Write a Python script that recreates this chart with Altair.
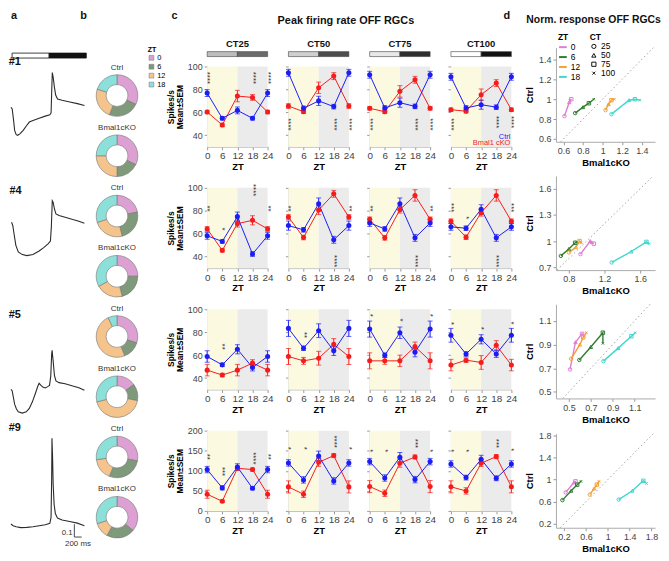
import altair as alt
import pandas as pd

FONT = "Liberation Sans"

# ---------------- panel a : example traces ----------------
TRACE_LABELS = ["#1", "#4", "#5", "#9"]
TRACE_T = [
    [0, 33, 67, 100, 142, 183, 250, 333, 417, 500, 600, 767, 933, 1058, 1092, 1108, 1125, 1150, 1183, 1217, 1267, 1392, 1600, 1808, 2000],
    [16, 49, 83, 133, 199, 308, 433, 599, 766, 891, 1016, 1074, 1099, 1124, 1149, 1183, 1224, 1308, 1474, 1683, 1849, 1999],
    [0, 33, 66, 99, 149, 199, 308, 416, 499, 583, 666, 733, 766, 816, 866, 933, 999, 1049, 1083, 1108, 1120, 1135, 1149, 1183, 1224, 1308, 1474, 1683, 1849, 1999],
    [0, 58, 141, 266, 433, 599, 766, 933, 1058, 1091, 1108, 1116, 1133, 1149, 1174, 1208, 1266, 1391, 1599, 1808, 1999],
]
TRACE_V = [
    [0.218, 0.205, 0.128, 0.038, 0.005, 0.0, 0.013, 0.038, 0.072, 0.103, 0.115, 0.133, 0.149, 0.159, 0.174, 0.333, 0.487, 0.449, 0.372, 0.313, 0.282, 0.272, 0.259, 0.246, 0.231],
    [0.256, 0.231, 0.167, 0.077, 0.026, 0.005, -0.003, 0.005, 0.033, 0.059, 0.09, 0.11, 0.218, 0.423, 0.410, 0.359, 0.321, 0.308, 0.295, 0.277, 0.264, 0.249],
    [0.185, 0.172, 0.121, 0.069, 0.031, 0.010, 0.0, 0.010, 0.036, 0.087, 0.154, 0.210, 0.231, 0.215, 0.203, 0.195, 0.205, 0.215, 0.287, 0.46, 0.487, 0.44, 0.403, 0.292, 0.249, 0.236, 0.228, 0.210, 0.197, 0.177],
    [0.031, 0.018, 0.010, 0.003, 0.005, 0.010, 0.018, 0.026, 0.036, 0.082, 0.390, 0.697, 0.544, 0.338, 0.185, 0.113, 0.077, 0.062, 0.051, 0.038, 0.018],
]
STIM_START = [30, 1040]
STIM_END = [1040, 2050]
STIM_PHASE = ["light", "dark"]
SCALEBAR_T = [1725, 1725, 1925]
SCALEBAR_V = [0.03, -0.07, -0.07]
SCALEBAR_TEXT = ["0.1", "200 ms"]
SCALEBAR_TEXT_T = [1680, 1825]
SCALEBAR_TEXT_V = [-0.035, -0.125]

# ---------------- panel b : ZT proportions ----------------
DONUT_ZT = ["0", "6", "12", "18"]
DONUT_GROUPS = ["Ctrl", "Bmal1cKO"]
DONUT_FRAC = [
    [[0.32, 0.24, 0.24, 0.20], [0.32, 0.18, 0.25, 0.25]],
    [[0.22, 0.24, 0.24, 0.30], [0.25, 0.21, 0.21, 0.33]],
    [[0.30, 0.14, 0.49, 0.07], [0.15, 0.13, 0.43, 0.29]],
    [[0.28, 0.28, 0.17, 0.27], [0.36, 0.22, 0.12, 0.30]],
]

# ---------------- panel c : peak firing rate ----------------
CT_NAMES = ["CT25", "CT50", "CT75", "CT100"]
ZT = [0, 6, 12, 18, 24]
SERIES = ["Ctrl", "Bmal1 cKO"]
CTRL_MEAN = [
    [[76.8, 54.8, 61.7, 54.8, 76.8], [94.5, 63.5, 70.0, 65.0, 94.5], [92.8, 63.8, 68.4, 65.2, 92.8], [91.0, 63.8, 66.7, 64.5, 91.0]],
    [[58.2, 53.3, 74.9, 42.3, 58.2], [67.1, 63.4, 86.2, 54.7, 67.1], [69.4, 64.2, 86.2, 56.4, 69.4], [66.0, 64.8, 81.3, 56.4, 66.0]],
    [[58.8, 51.5, 65.1, 49.2, 58.8], [83.3, 66.0, 81.3, 63.7, 83.3], [82.7, 59.9, 79.5, 62.5, 82.7], [77.3, 61.0, 73.8, 61.0, 77.3]],
    [[103, 57.3, 109.5, 56.4, 103], [119.5, 77.2, 137, 74.7, 119.5], [122.8, 82, 133.6, 78, 122.8], [117, 83, 128.6, 81.3, 117]],
]
CTRL_SEM = [
    [[3, 1.5, 3, 1.5, 3], [3, 2, 4, 2, 3], [3, 2, 4, 2, 3], [3, 2, 4, 2, 3]],
    [[3, 1.5, 4, 2, 3], [4, 2, 5, 3, 4], [3, 2, 5, 3, 3], [3, 2, 4, 3, 3]],
    [[5, 1.5, 4, 3, 5], [7, 2, 6, 4, 7], [7, 2, 5, 4, 7], [6, 2, 4, 3, 6]],
    [[8, 5, 8, 4, 8], [8, 8, 12, 8, 8], [8, 8, 12, 8, 8], [8, 6, 10, 6, 8]],
]
KO_MEAN = [
    [[60.3, 49.0, 74.2, 73.0, 60.3], [65.5, 60.6, 81.4, 91.6, 65.5], [63.5, 60.6, 78.3, 88.4, 63.5], [62.3, 61.0, 75.4, 85.5, 62.3]],
    [[64.2, 45.5, 68.8, 71.7, 64.2], [74.6, 56.7, 80.7, 94.8, 74.6], [72.6, 56.4, 81.0, 93.4, 72.6], [70.9, 57.0, 78.4, 93.4, 70.9]],
    [[46.9, 42.6, 46.9, 53.0, 46.9], [58.8, 55.0, 57.3, 69.4, 58.8], [55.0, 55.0, 55.0, 67.4, 55.0], [51.3, 55.6, 53.6, 68.6, 51.3]],
    [[41.5, 24, 106.2, 103, 41.5], [59.8, 41.5, 121, 137.8, 59.8], [60.6, 44, 118.7, 134.4, 60.6], [60, 49.8, 118.7, 135.3, 60]],
]
KO_SEM = [
    [[1.5, 1.5, 5, 2.5, 1.5], [2, 1.5, 5, 3, 2], [1.5, 1.5, 5, 3, 1.5], [1.5, 1.5, 5, 3, 1.5]],
    [[2, 1.5, 3, 4, 2], [2, 2, 4, 3, 2], [2, 2, 3, 5, 2], [2, 2, 3, 5, 2]],
    [[5, 1.5, 5, 3, 5], [7, 3, 6, 5, 7], [7, 3, 5, 4, 7], [5, 2, 6, 4, 5]],
    [[10, 3, 5, 4, 10], [15, 8, 10, 5, 15], [15, 8, 10, 5, 15], [15, 8, 8, 5, 15]],
]
# significance marks: (row, CT index, ZT, stars, y)
STARS = [
    (0, 0, 0, "****", 90), (0, 0, 18, "****", 90), (0, 0, 24, "****", 90),
    (0, 1, 0, "****", 49.5), (0, 1, 18, "****", 49.5), (0, 1, 24, "****", 49.5),
    (0, 2, 0, "****", 49.5), (0, 2, 18, "****", 49.5), (0, 2, 24, "****", 49.5),
    (0, 3, 0, "****", 49.5), (0, 3, 18, "****", 51.5), (0, 3, 24, "****", 51.5),
    (1, 0, 0, "**", 82), (1, 0, 6, "*", 64), (1, 0, 18, "****", 98), (1, 0, 24, "**", 82),
    (1, 1, 0, "**", 82), (1, 1, 18, "****", 36), (1, 1, 24, "**", 82),
    (1, 2, 0, "**", 82), (1, 2, 18, "****", 36), (1, 2, 24, "**", 82),
    (1, 3, 0, "***", 82.7), (1, 3, 6, "*", 74), (1, 3, 18, "****", 36), (1, 3, 24, "***", 82.7),
    (2, 0, 6, "**", 67.4),
    (2, 1, 6, "**", 77.5),
    (2, 2, 0, "*", 94.8), (2, 2, 12, "*", 90.5), (2, 2, 24, "*", 94.8),
    (2, 3, 0, "*", 87.6), (2, 3, 12, "*", 83.3), (2, 3, 24, "*", 88),
    (3, 0, 0, "**", 135), (3, 0, 6, "***", 98), (3, 0, 18, "****", 131), (3, 0, 24, "**", 135),
    (3, 1, 0, "*", 156), (3, 1, 6, "*", 156), (3, 1, 18, "****", 172.6), (3, 1, 24, "*", 156),
    (3, 2, 0, "*", 150), (3, 2, 6, "*", 150), (3, 2, 18, "***", 168), (3, 2, 24, "*", 150),
    (3, 3, 0, "*", 150), (3, 3, 6, "*", 150), (3, 3, 18, "***", 168), (3, 3, 24, "*", 152),
]
LEGEND_Y = [38.8, 33.6]

# ---------------- panel d : normalised responses ----------------
D_ZT = ["0", "6", "12", "18"]
D_CT = ["25", "50", "75", "100"]
D_X = [
    [[0.61, 0.66, 0.68, 0.665], [0.72, 0.80, 0.86, 0.91], [1.03, 1.06, 1.09, 1.12], [1.09, 1.27, 1.33, 1.38]],
    [[0.93, 1.04, 1.08, 1.05], [0.71, 0.80, 0.87, 0.89], [0.80, 0.88, 0.92, 0.94], [1.28, 1.50, 1.67, 1.70]],
    [[0.51, 0.56, 0.62, 0.64], [0.595, 0.70, 0.81, 0.81], [0.52, 0.60, 0.63, 0.66], [0.815, 0.95, 1.07, 1.105]],
    [[0.23, 0.38, 0.41, 0.40], [0.17, 0.33, 0.44, 0.51], [0.67, 0.75, 0.80, 0.84], [1.20, 1.45, 1.65, 1.71]],
]
D_Y = [
    [[0.83, 0.97, 1.0, 0.99], [0.86, 0.92, 0.96, 1.0], [0.89, 0.95, 0.99, 1.0], [0.85, 0.99, 1.0, 0.99]],
    [[0.85, 1.0, 0.97, 0.98], [0.83, 0.91, 0.98, 0.99], [0.87, 0.93, 1.0, 0.98], [0.755, 0.88, 0.99, 0.97]],
    [[0.69, 0.92, 0.99, 0.97], [0.77, 0.88, 1.0, 0.91], [0.78, 0.90, 0.96, 1.0], [0.76, 0.87, 0.97, 1.0]],
    [[0.77, 0.95, 0.97, 0.96], [0.63, 0.80, 0.91, 0.97], [0.73, 0.84, 0.91, 0.97], [0.64, 0.80, 0.98, 0.93]],
]
D_XDOM = [[0.524, 1.535], [0.655, 1.767], [0.382, 1.286], [0.052, 1.865]]
D_YDOM = [[0.572, 1.518], [0.667, 1.746], [0.445, 1.24], [0.13, 1.834]]
D_XTICKS = [[0.6, 0.8, 1, 1.2, 1.4], [0.8, 1.2, 1.6], [0.5, 0.7, 0.9, 1.1], [0.2, 0.6, 1, 1.4, 1.8]]
D_YTICKS = [[0.6, 0.8, 1, 1.2, 1.4], [0.7, 1, 1.3, 1.6], [0.5, 0.7, 0.9, 1.1], [0.2, 0.6, 1, 1.4, 1.8]]

# ---------------- styling / layout ----------------
BLUE = "#1c1cf5"
RED = "#f51c1c"
LIGHT_BG = "#fcf9e1"
DARK_BG = "#ebebeb"
DONUT_COLORS = ["#dca0d2", "#7f9a7a", "#f5c38c", "#8ce0da"]
D_COLORS = ["#e07cd2", "#2f7d2f", "#f5a033", "#3fd6cf"]
CT_BAR_COLORS = [["#bdbdbd", "#6b6b6b"], ["#cfcfcf", "#4d4d4d"], ["#e8e8e8", "#2e2e2e"], ["#ffffff", "#111111"]]
CROSS = "M-0.7,-0.7L0.7,0.7M-0.7,0.7L0.7,-0.7"

A_W = 76
A_PX = 130.0
A_LO = [-0.377, -0.385, -0.128, -0.15]
A_HI = [0.469, 0.423, 0.702, 0.633]
T_MAX = 2050
CW, CH = 61, 81
DW, DH = 100, 95


def indep(ch):
    return ch.resolve_scale(x="independent", y="independent", color="independent",
                            fill="independent", shape="independent", theta="independent")


def title(text, **kw):
    base = dict(font=FONT, fontSize=11, fontWeight="bold", color="#111")
    base.update(kw)
    return alt.TitleParams(text, **base)


def anchor_layer(h):
    # invisible anchor at the bottom of a spacer so nothing sticks out above it
    return alt.Chart(pd.DataFrame({"s": [""]})).mark_rule(opacity=0).encode(
        x=alt.value(1), x2=alt.value(2), y=alt.value(h - 1), y2=alt.value(h - 1))


def spacer(w, h, texts=(), extra=()):
    layers = [anchor_layer(h)] + list(extra)
    for (s, x, y, fs, al) in texts:
        layers.append(alt.Chart(pd.DataFrame({"s": [s]})).mark_text(
            font=FONT, fontSize=fs, fontWeight="bold", align=al, baseline="top", color="#111").encode(
            x=alt.value(x), y=alt.value(y), text="s:N"))
    return alt.layer(*layers).properties(width=w, height=h)


# ---- panel a
def stim_chart():
    df = pd.DataFrame({"t0": STIM_START, "t1": STIM_END, "ph": STIM_PHASE})
    return alt.Chart(df).mark_rect(stroke="#111", strokeWidth=0.8).encode(
        x=alt.X("t0:Q", scale=alt.Scale(domain=[0, T_MAX], nice=False, zero=False), axis=None),
        x2="t1:Q", y=alt.value(0), y2=alt.value(5),
        fill=alt.Fill("ph:N", scale=alt.Scale(domain=["light", "dark"], range=["#ffffff", "#111111"]), legend=None),
    ).properties(width=A_W, height=5)


def trace_chart(i):
    df = pd.DataFrame({"t": TRACE_T[i], "v": TRACE_V[i]})
    xs = alt.Scale(domain=[0, T_MAX], nice=False, zero=False)
    ys = alt.Scale(domain=[A_LO[i], A_HI[i]], nice=False, zero=False)
    layers = [alt.Chart(df).mark_line(color="#2b2b2b", strokeWidth=1.1).encode(
        x=alt.X("t:Q", scale=xs, axis=None), y=alt.Y("v:Q", scale=ys, axis=None))]
    if i == 3:
        sb = pd.DataFrame({"t": SCALEBAR_T, "v": SCALEBAR_V, "k": [0, 1, 2]})
        layers.append(alt.Chart(sb).mark_line(color="#333", strokeWidth=0.9).encode(
            x=alt.X("t:Q", scale=xs, axis=None), y=alt.Y("v:Q", scale=ys, axis=None), order="k:Q"))
        for j, al in enumerate(["right", "center"]):
            tx = pd.DataFrame({"t": [SCALEBAR_TEXT_T[j]], "v": [SCALEBAR_TEXT_V[j]], "s": [SCALEBAR_TEXT[j]]})
            layers.append(alt.Chart(tx).mark_text(font=FONT, fontSize=8, align=al, baseline="middle", color="#333").encode(
                x=alt.X("t:Q", scale=xs, axis=None), y=alt.Y("v:Q", scale=ys, axis=None), text="s:N"))
    return alt.layer(*layers).properties(
        width=A_W, height=(A_HI[i] - A_LO[i]) * A_PX,
        title=title(TRACE_LABELS[i], anchor="start", offset=3))


colA = indep(alt.vconcat(spacer(A_W, 26, [("a", 0, 0, 11, "left"), ("b", 70, 0, 11, "left")]),
                         stim_chart(), *[trace_chart(i) for i in range(4)], spacing=17, bounds="flush"))


# ---- panel b
def donut(i, g):
    df = pd.DataFrame({"zt": DONUT_ZT, "frac": DONUT_FRAC[i][g], "k": [0, 1, 2, 3]})
    return alt.Chart(df).mark_arc(innerRadius=11, outerRadius=21, stroke="#777", strokeWidth=0.6).encode(
        theta=alt.Theta("frac:Q", stack=True),
        color=alt.Color("zt:N", scale=alt.Scale(domain=DONUT_ZT, range=DONUT_COLORS), sort=DONUT_ZT, legend=None),
        order=alt.Order("k:Q"),
    ).properties(width=44, height=44,
                 title=title(DONUT_GROUPS[g], fontSize=8, fontWeight="normal", offset=2, color="#333"))


B_SPACER_H = 46.2
zt_leg = alt.Legend(title="ZT", orient="none", legendX=53, legendY=36, titleFontSize=7,
                    titleFont=FONT, labelFont=FONT, labelFontSize=7.5, symbolType="square",
                    symbolSize=24, symbolStrokeColor="#777", symbolStrokeWidth=0.5, symbolOpacity=1,
                    rowPadding=0, titlePadding=1, labelOffset=2, padding=0)
legend_holder = alt.Chart(pd.DataFrame({"zt": DONUT_ZT})).mark_point(opacity=0, filled=True, shape="square").encode(
    x=alt.value(2), y=alt.value(B_SPACER_H - 2),
    color=alt.Color("zt:N", scale=alt.Scale(domain=DONUT_ZT, range=DONUT_COLORS), sort=DONUT_ZT, legend=zt_leg))
colB = indep(alt.vconcat(spacer(44, B_SPACER_H, extra=[legend_holder]),
                         *[donut(i, g) for i in range(4) for g in range(2)],
                         spacing=16.8, bounds="flush"))


# ---- panel c
def c_plot(r, ci):
    lo_d, hi_d = (0, 200) if r == 3 else (30, 100)
    yvals = [0, 50, 100, 150, 200] if r == 3 else [40, 60, 80, 100]
    xs = alt.Scale(domain=[0, 24], nice=False, zero=False)
    ys = alt.Scale(domain=[lo_d, hi_d], nice=False, zero=False)
    xaxis = alt.Axis(values=ZT, title="ZT", titleFontSize=9.5, titleFontWeight="bold", labelFontSize=10,
                     labelColor="#444", titlePadding=1, labelPadding=1, tickSize=3, domainColor="#bbb",
                     tickColor="#999", grid=False, labelFlush=False)
    if ci == 0:
        yaxis = alt.Axis(values=yvals, title=["Spikes/s", "Mean±SEM"], titleFontSize=8.5, titleFontWeight="bold",
                         titleLineHeight=9, titlePadding=3, labelFontSize=9, labelColor="#444", tickSize=3,
                         domainColor="#bbb", tickColor="#999", grid=False)
    else:
        yaxis = alt.Axis(values=yvals, labels=False, title=None, tickSize=3, domainColor="#bbb",
                         tickColor="#999", grid=False)
    rows = []
    for g, means, sems in [("Bmal1 cKO", KO_MEAN, KO_SEM), ("Ctrl", CTRL_MEAN, CTRL_SEM)]:
        for k, z in enumerate(ZT):
            m = means[r][ci][k]
            s = sems[r][ci][k]
            rows.append({"zt": z, "mean": m, "lo": m - s, "hi": m + s, "group": g})
    df = pd.DataFrame(rows)
    cs = alt.Scale(domain=SERIES, range=[BLUE, RED])
    col = alt.Color("group:N", scale=cs, legend=None)
    X = lambda f: alt.X(f, scale=xs, axis=xaxis)
    Y = lambda f: alt.Y(f, scale=ys, axis=yaxis)
    shade = pd.DataFrame({"x0": [0, 12], "x1": [12, 24], "ph": ["light", "dark"]})
    bg = alt.Chart(shade).mark_rect().encode(
        x=X("x0:Q"), x2="x1:Q", y=alt.value(0), y2=alt.value(CH),
        fill=alt.Fill("ph:N", scale=alt.Scale(domain=["light", "dark"], range=[LIGHT_BG, DARK_BG]), legend=None))
    base = alt.Chart(df)
    rule = base.mark_rule(strokeWidth=1).encode(x=X("zt:Q"), y=Y("lo:Q"), y2="hi:Q", color=col)
    cap1 = base.mark_tick(orient="horizontal", size=5, thickness=1).encode(x=X("zt:Q"), y=Y("lo:Q"), color=col)
    cap2 = base.mark_tick(orient="horizontal", size=5, thickness=1).encode(x=X("zt:Q"), y=Y("hi:Q"), color=col)
    line = base.mark_line(strokeWidth=1).encode(x=X("zt:Q"), y=Y("mean:Q"), color=col)
    pts = base.mark_circle(size=26, opacity=1).encode(x=X("zt:Q"), y=Y("mean:Q"), color=col)
    st = [s for s in STARS if s[0] == r and s[1] == ci]
    layers = [bg, rule, cap1, cap2, line, pts]
    if st:
        sdf = pd.DataFrame({"zt": [s[2] for s in st], "txt": [s[3] for s in st], "y": [s[4] for s in st]})
        layers.append(alt.Chart(sdf).mark_text(font=FONT, fontSize=8, angle=90, color="#222",
                                               baseline="middle", align="center").encode(
            x=X("zt:Q"), y=Y("y:Q"), text="txt:N"))
    if r == 0 and ci == 3:
        ldf = pd.DataFrame({"group": SERIES, "y": LEGEND_Y})
        layers.append(alt.Chart(ldf).mark_text(font=FONT, fontSize=7.5, align="right", baseline="middle").encode(
            x=alt.value(CW - 1), y=Y("y:Q"), text="group:N", color=col))
    return alt.layer(*layers).properties(width=CW, height=CH)


def ct_header(ci):
    df = pd.DataFrame({"x0": [0, 12], "x1": [12, 24], "ph": ["light", "dark"]})
    return alt.Chart(df).mark_rect(stroke="#444", strokeWidth=0.6).encode(
        x=alt.X("x0:Q", scale=alt.Scale(domain=[0, 24], nice=False, zero=False), axis=None), x2="x1:Q",
        y=alt.value(0), y2=alt.value(5),
        fill=alt.Fill("ph:N", scale=alt.Scale(domain=["light", "dark"], range=CT_BAR_COLORS[ci]), legend=None),
    ).properties(width=CW, height=5, title=title(CT_NAMES[ci], fontSize=9.5, offset=3))


row0 = indep(alt.hconcat(*[indep(alt.vconcat(ct_header(ci), c_plot(0, ci), spacing=10, bounds="flush"))
                           for ci in range(4)], spacing=11))
crows = [row0] + [indep(alt.hconcat(*[c_plot(r, ci) for ci in range(4)], spacing=11)) for r in range(1, 4)]
# spacer texts are positioned relative to the first CT panel's plot origin
spacerC = spacer(290, 16, [("c", -36, 0, 11, "left"), ("Peak firing rate OFF RGCs", 140, 5, 11, "center"),
                           ("d", 299, 0, 11, "left")])
colC = indep(alt.vconcat(spacerC, *crows, spacing=12.5))


# ---- panel d
def d_plot(r):
    rows = []
    for z in range(4):
        for k in range(4):
            rows.append({"zt": D_ZT[z], "ct": D_CT[k], "k": k, "x": D_X[r][z][k], "y": D_Y[r][z][k]})
    df = pd.DataFrame(rows)
    xs = alt.Scale(domain=D_XDOM[r], nice=False, zero=False)
    ys = alt.Scale(domain=D_YDOM[r], nice=False, zero=False)
    xaxis = alt.Axis(values=D_XTICKS[r], format=".1~f", title="Bmal1cKO", titleFontSize=9.5, titleFontWeight="bold",
                     labelFontSize=9, labelColor="#444", tickSize=3, domainColor="#aaa", tickColor="#999",
                     grid=False, titlePadding=2, labelFlush=False)
    yaxis = alt.Axis(values=D_YTICKS[r], format=".1~f", title="Ctrl", titleFontSize=9.5, titleFontWeight="bold",
                     labelFontSize=9, labelColor="#444", tickSize=3, domainColor="#aaa", tickColor="#999",
                     grid=False, titlePadding=4)
    X = lambda f: alt.X(f, scale=xs, axis=xaxis)
    Y = lambda f: alt.Y(f, scale=ys, axis=yaxis)
    lo = max(D_XDOM[r][0], D_YDOM[r][0])
    hi = min(D_XDOM[r][1], D_YDOM[r][1])
    diag = alt.Chart(pd.DataFrame({"v": [lo, hi]})).mark_line(
        color="#999", strokeDash=[1.5, 2.5], strokeWidth=0.9).encode(x=X("v:Q"), y=Y("v:Q"))
    if r == 0:
        cleg = alt.Legend(title="ZT", orient="none", legendX=2, legendY=-15, titleFontSize=8.5, titleFont=FONT,
                          labelFont=FONT, labelFontSize=8.5, symbolType="stroke", symbolStrokeWidth=2,
                          symbolSize=60, rowPadding=0, titlePadding=1, padding=0, labelOffset=3)
        sleg = alt.Legend(title="CT", orient="none", legendX=34, legendY=-15, titleFontSize=8.5, titleFont=FONT,
                          labelFont=FONT, labelFontSize=8.5, symbolStrokeColor="#111", symbolFillColor="#ffffff",
                          symbolStrokeWidth=1, symbolSize=18, rowPadding=0, titlePadding=1, padding=0, labelOffset=3)
    else:
        cleg = None
        sleg = None
    cscale = alt.Scale(domain=D_ZT, range=D_COLORS)
    line = alt.Chart(df).mark_line(strokeWidth=1.4).encode(
        x=X("x:Q"), y=Y("y:Q"), color=alt.Color("zt:N", scale=cscale, sort=D_ZT, legend=cleg),
        detail="zt:N", order="k:Q")
    pts = alt.Chart(df).mark_point(filled=False, size=12, strokeWidth=1, opacity=1).encode(
        x=X("x:Q"), y=Y("y:Q"), color=alt.Color("zt:N", scale=cscale, sort=D_ZT, legend=None),
        shape=alt.Shape("ct:N", scale=alt.Scale(domain=D_CT, range=["circle", "triangle-up", "square", CROSS]),
                        sort=D_CT, legend=sleg))
    return alt.layer(diag, line, pts).properties(width=DW, height=DH)


spacerD = spacer(DW, 16, [("Norm. response OFF RGCs", 38, 5, 10.5, "center")])
colD = indep(alt.vconcat(spacerD, *[d_plot(r) for r in range(4)], spacing=6.5))

AB = indep(alt.hconcat(colA, colB, spacing=3))
ABC = indep(alt.hconcat(AB, colC, spacing=0))
chart = indep(alt.hconcat(ABC, colD, spacing=7)).properties(padding=0).configure(font=FONT).configure_view(
    stroke=None).configure_axis(labelFont=FONT, titleFont=FONT, grid=False).configure_title(font=FONT)

chart.save("out.html", embed_options={"renderer": "svg", "actions": False})
